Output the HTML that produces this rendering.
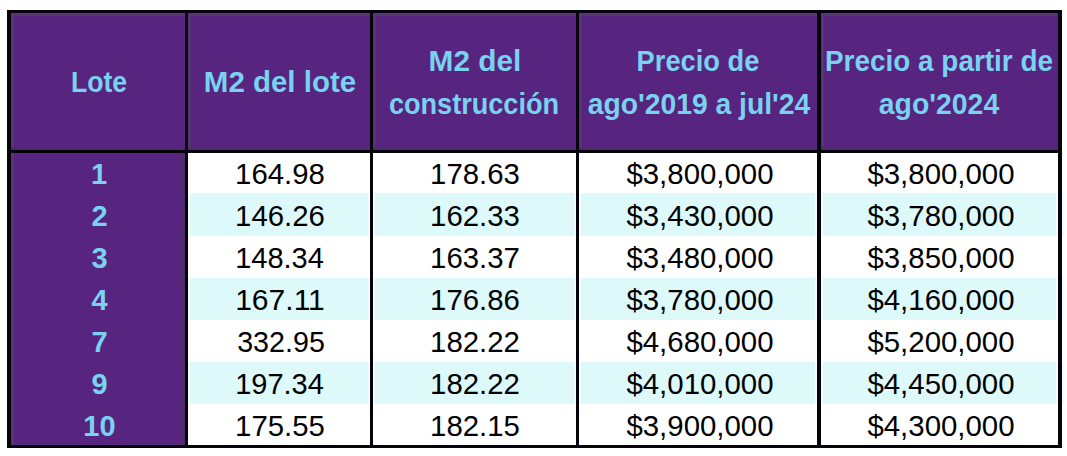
<!DOCTYPE html>
<html><head><meta charset="utf-8"><style>
html,body{margin:0;padding:0;background:#fff;width:1067px;height:456px;overflow:hidden;position:relative;font-family:"Liberation Sans",sans-serif;}
.r{position:absolute;}
.t{position:absolute;width:400px;text-align:center;white-space:nowrap;font-size:29px;line-height:40px;height:40px;transform-origin:50% 50%;}
.b{font-weight:bold;}
</style></head><body>

<div class="r" style="left:10px;top:13px;width:1049px;height:136px;background:#57247F"></div>
<div class="r" style="left:10px;top:152px;width:175px;height:293px;background:#57247F"></div>
<div class="r" style="left:188px;top:152px;width:871px;height:41px;background:#fff"></div>
<div class="r" style="left:188px;top:193px;width:871px;height:43px;background:#DDF9F9"></div>
<div class="r" style="left:188px;top:236px;width:871px;height:42px;background:#fff"></div>
<div class="r" style="left:188px;top:278px;width:871px;height:42px;background:#DDF9F9"></div>
<div class="r" style="left:188px;top:320px;width:871px;height:42px;background:#fff"></div>
<div class="r" style="left:188px;top:362px;width:871px;height:42px;background:#DDF9F9"></div>
<div class="r" style="left:188px;top:404px;width:871px;height:41px;background:#fff"></div>
<div class="r" style="left:11px;top:13px;width:1047px;height:3px;background:#553670"></div>
<div class="r" style="left:11px;top:13px;width:3px;height:432px;background:#553670"></div>
<div class="r" style="left:188px;top:13px;width:3px;height:136px;background:#553670"></div>
<div class="r" style="left:373px;top:13px;width:3px;height:136px;background:#553670"></div>
<div class="r" style="left:579px;top:13px;width:3px;height:136px;background:#553670"></div>
<div class="r" style="left:821px;top:13px;width:3px;height:136px;background:#553670"></div>
<div class="r" style="left:182px;top:152px;width:3px;height:293px;background:#4E2C6A"></div>
<div class="r" style="left:11px;top:147px;width:1047px;height:3px;background:#4E2C6A"></div>
<div class="r" style="left:185px;top:193px;width:5px;height:43px;background:#F2FDFD"></div>
<div class="r" style="left:368px;top:193px;width:7px;height:43px;background:#F2FDFD"></div>
<div class="r" style="left:574px;top:193px;width:7px;height:43px;background:#F2FDFD"></div>
<div class="r" style="left:815px;top:193px;width:8px;height:43px;background:#F2FDFD"></div>
<div class="r" style="left:1056px;top:193px;width:8px;height:43px;background:#F2FDFD"></div>
<div class="r" style="left:185px;top:278px;width:5px;height:42px;background:#F2FDFD"></div>
<div class="r" style="left:368px;top:278px;width:7px;height:42px;background:#F2FDFD"></div>
<div class="r" style="left:574px;top:278px;width:7px;height:42px;background:#F2FDFD"></div>
<div class="r" style="left:815px;top:278px;width:8px;height:42px;background:#F2FDFD"></div>
<div class="r" style="left:1056px;top:278px;width:8px;height:42px;background:#F2FDFD"></div>
<div class="r" style="left:185px;top:362px;width:5px;height:42px;background:#F2FDFD"></div>
<div class="r" style="left:368px;top:362px;width:7px;height:42px;background:#F2FDFD"></div>
<div class="r" style="left:574px;top:362px;width:7px;height:42px;background:#F2FDFD"></div>
<div class="r" style="left:815px;top:362px;width:8px;height:42px;background:#F2FDFD"></div>
<div class="r" style="left:1056px;top:362px;width:8px;height:42px;background:#F2FDFD"></div>
<div class="r" style="left:7px;top:10px;width:4px;height:438px;background:#06030C"></div>
<div class="r" style="left:185px;top:10px;width:3px;height:438px;background:#06030C"></div>
<div class="r" style="left:370px;top:10px;width:3px;height:438px;background:#06030C"></div>
<div class="r" style="left:576px;top:10px;width:3px;height:438px;background:#06030C"></div>
<div class="r" style="left:817px;top:10px;width:4px;height:438px;background:#06030C"></div>
<div class="r" style="left:1058px;top:10px;width:4px;height:438px;background:#06030C"></div>
<div class="r" style="left:7px;top:10px;width:1055px;height:3px;background:#06030C"></div>
<div class="r" style="left:7px;top:150px;width:1055px;height:3px;background:#06030C"></div>
<div class="r" style="left:7px;top:445px;width:1055px;height:3px;background:#06030C"></div>
<div class="t b" style="left:-101.45px;top:61.65px;color:#78D2F0;transform:scaleX(0.9175);">Lote</div>
<div class="t b" style="left:79.50px;top:61.65px;color:#78D2F0;transform:scaleX(1.0163);">M2 del lote</div>
<div class="t b" style="left:275.30px;top:41.05px;color:#78D2F0;transform:scaleX(1.0280);">M2 del</div>
<div class="t b" style="left:274.05px;top:83.55px;color:#78D2F0;transform:scaleX(0.9345);">construcción</div>
<div class="t b" style="left:498.45px;top:41.05px;color:#78D2F0;transform:scaleX(0.9406);">Precio de</div>
<div class="t b" style="left:499.05px;top:83.55px;color:#78D2F0;transform:scaleX(0.9753);">ago'2019 a jul'24</div>
<div class="t b" style="left:739.35px;top:41.05px;color:#78D2F0;transform:scaleX(0.9624);">Precio a partir de</div>
<div class="t b" style="left:739.30px;top:83.55px;color:#78D2F0;transform:scaleX(0.9787);">ago'2024</div>
<div class="t b" style="left:-101.00px;top:153.65px;color:#78D2F0;">1</div>
<div class="t" style="left:80.00px;top:153.65px;color:#000;transform:scaleX(1.0118);">164.98</div>
<div class="t" style="left:275.00px;top:153.65px;color:#000;transform:scaleX(1.0118);">178.63</div>
<div class="t" style="left:499.80px;top:153.65px;color:#000;transform:scaleX(1.0140);">$3,800,000</div>
<div class="t" style="left:741.40px;top:153.65px;color:#000;transform:scaleX(1.0140);">$3,800,000</div>
<div class="t b" style="left:-100.50px;top:195.65px;color:#78D2F0;">2</div>
<div class="t" style="left:80.00px;top:195.65px;color:#000;transform:scaleX(1.0118);">146.26</div>
<div class="t" style="left:275.00px;top:195.65px;color:#000;transform:scaleX(1.0118);">162.33</div>
<div class="t" style="left:499.80px;top:195.65px;color:#000;transform:scaleX(1.0140);">$3,430,000</div>
<div class="t" style="left:741.40px;top:195.65px;color:#000;transform:scaleX(1.0140);">$3,780,000</div>
<div class="t b" style="left:-100.50px;top:237.65px;color:#78D2F0;">3</div>
<div class="t" style="left:79.50px;top:237.65px;color:#000;">148.34</div>
<div class="t" style="left:275.00px;top:237.65px;color:#000;transform:scaleX(1.0118);">163.37</div>
<div class="t" style="left:499.80px;top:237.65px;color:#000;transform:scaleX(1.0140);">$3,480,000</div>
<div class="t" style="left:741.40px;top:237.65px;color:#000;transform:scaleX(1.0140);">$3,850,000</div>
<div class="t b" style="left:-100.50px;top:279.65px;color:#78D2F0;">4</div>
<div class="t" style="left:80.00px;top:279.65px;color:#000;transform:scaleX(1.0362);">167.11</div>
<div class="t" style="left:275.00px;top:279.65px;color:#000;transform:scaleX(1.0118);">176.86</div>
<div class="t" style="left:499.80px;top:279.65px;color:#000;transform:scaleX(1.0140);">$3,780,000</div>
<div class="t" style="left:741.40px;top:279.65px;color:#000;transform:scaleX(1.0140);">$4,160,000</div>
<div class="t b" style="left:-100.50px;top:321.65px;color:#78D2F0;">7</div>
<div class="t" style="left:81.00px;top:321.65px;color:#000;transform:scaleX(0.9884);">332.95</div>
<div class="t" style="left:275.00px;top:321.65px;color:#000;transform:scaleX(1.0118);">182.22</div>
<div class="t" style="left:499.80px;top:321.65px;color:#000;transform:scaleX(1.0140);">$4,680,000</div>
<div class="t" style="left:741.40px;top:321.65px;color:#000;transform:scaleX(1.0140);">$5,200,000</div>
<div class="t b" style="left:-100.50px;top:363.65px;color:#78D2F0;">9</div>
<div class="t" style="left:79.50px;top:363.65px;color:#000;">197.34</div>
<div class="t" style="left:275.00px;top:363.65px;color:#000;transform:scaleX(1.0118);">182.22</div>
<div class="t" style="left:499.80px;top:363.65px;color:#000;transform:scaleX(1.0140);">$4,010,000</div>
<div class="t" style="left:741.40px;top:363.65px;color:#000;transform:scaleX(1.0140);">$4,450,000</div>
<div class="t b" style="left:-100.50px;top:405.65px;color:#78D2F0;">10</div>
<div class="t" style="left:80.00px;top:405.65px;color:#000;transform:scaleX(1.0118);">175.55</div>
<div class="t" style="left:275.00px;top:405.65px;color:#000;transform:scaleX(1.0118);">182.15</div>
<div class="t" style="left:499.80px;top:405.65px;color:#000;transform:scaleX(1.0140);">$3,900,000</div>
<div class="t" style="left:741.40px;top:405.65px;color:#000;transform:scaleX(1.0140);">$4,300,000</div>
</body></html>
